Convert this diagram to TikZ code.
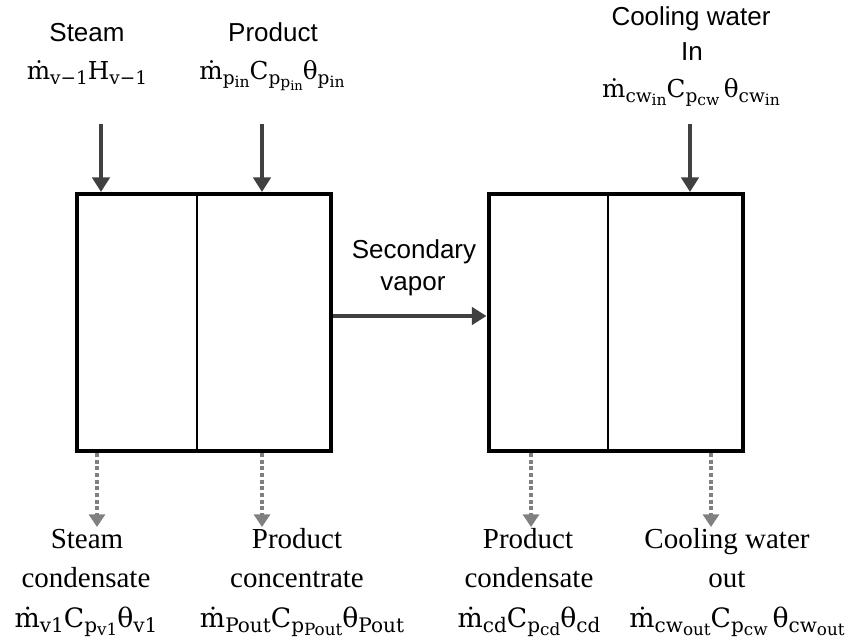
\documentclass[tikz,border=0pt]{standalone}
\usepackage{fontspec}
\usepackage{graphicx}
\setmainfont{Liberation Serif}
\newfontfamily\arialf{Liberation Sans}
\newfontfamily\frmf{DejaVu Serif}
\usetikzlibrary{arrows.meta}
\newcommand\sbs[1]{\raisebox{-0.2em}{\scalebox{0.75}{#1}}}
\newcommand\sbss[1]{\raisebox{-0.16em}{\scalebox{0.84}{#1}}}
\newcommand\md{\.{m}}
\newcommand\gp{\hspace{0.18em}}
\tikzset{
  boxst/.style={draw=black, line width=3pt, minimum width=190.5pt, minimum height=192.75pt, inner sep=0pt, outer sep=1.5pt},
  divst/.style={draw=black, line width=1.5pt},
  inarrow/.style={draw=black!75, line width=3.6pt, -{Triangle[width=13pt,length=11pt]}},
  outarrow/.style={draw=black!50, line width=3pt, dash pattern=on 3pt off 2pt, -{Triangle[width=12pt,length=9.5pt]}},
  sanslbl/.style={anchor=base, inner sep=0pt, font=\arialf\fontsize{19.5pt}{22pt}\selectfont},
  seriflbl/.style={anchor=base, inner sep=0pt, font=\fontsize{21.75pt}{24pt}\selectfont},
  topfrm/.style={anchor=base, inner sep=0pt, font=\frmf\fontsize{18.5pt}{22pt}\selectfont},
  botfrm/.style={anchor=base, inner sep=0pt, font=\frmf\fontsize{20pt}{24pt}\selectfont}
}
\begin{document}
\begin{tikzpicture}[x=0.75pt, y=-0.75pt]
\useasboundingbox (0,0) rectangle (854,642);
% boxes
\node[boxst] (L) at (204,322.5) {};
\node[boxst] (R) at (615.5,322.5) {};
\draw[divst] (197,194) -- (197,451);
\draw[divst] (608,194) -- (608,451);
% top labels
\node[sanslbl] (tSteam) at (87,42) {Steam};
\node[topfrm] (tF1) at (87,80) {\md\sbs{v−1}H\sbs{v−1}};
\node[sanslbl] (tProd) at (273,42) {Product};
\node[topfrm] (tF2) at (272,80) {\md\sbs{p\sbss{in}}C\sbs{p\sbss{p\sbss{in}}}θ\sbs{p\sbss{in}}};
\node[sanslbl] (tCw) at (691,26) {Cooling water};
\node[sanslbl] (tIn) at (692,61) {In};
\node[topfrm] (tF3) at (691,98) {\md\sbs{cw\sbss{in}}C\sbs{p\sbss{cw}}\gp θ\sbs{cw\sbss{in}}};
% secondary vapor
\node[sanslbl] (sv1) at (414,258) {Secondary};
\node[sanslbl] (sv2) at (413,290) {vapor};
% input arrows
\coordinate (a1) at (101,124);
\coordinate (a2) at (262,124);
\coordinate (a3) at (690,124);
\draw[inarrow] (a1) -- (a1 |- L.north);
\draw[inarrow] (a2) -- (a2 |- L.north);
\draw[inarrow] (a3) -- (a3 |- R.north);
\coordinate (sv) at (0,316);
\draw[inarrow] (sv -| L.east) -- (sv -| R.west);
% output arrows
\coordinate (o1) at (97,527);
\coordinate (o2) at (262,527);
\coordinate (o3) at (531,527);
\coordinate (o4) at (711,527);
\draw[outarrow] (o1 |- L.south) -- (o1);
\draw[outarrow] (o2 |- L.south) -- (o2);
\draw[outarrow] (o3 |- R.south) -- (o3);
\draw[outarrow] (o4 |- R.south) -- (o4);
% bottom labels
\node[seriflbl] (b1a) at (87,548) {Steam};
\node[seriflbl] (b1b) at (86,587) {condensate};
\node[botfrm] (b1c) at (86,627) {\md\sbs{v1}C\sbs{p\sbss{v1}}θ\sbs{v1}};
\node[seriflbl] (b2a) at (297,548) {Product};
\node[seriflbl] (b2b) at (297,587) {concentrate};
\node[botfrm] (b2c) at (302,627) {\md\sbs{Pout}C\sbs{p\sbss{Pout}}θ\sbs{Pout}};
\node[seriflbl] (b3a) at (528,548) {Product};
\node[seriflbl] (b3b) at (529,587) {condensate};
\node[botfrm] (b3c) at (529,627) {\md\sbs{cd}C\sbs{p\sbss{cd}}θ\sbs{cd}};
\node[seriflbl] (b4a) at (727,548) {Cooling water};
\node[seriflbl] (b4b) at (727,587) {out};
\node[botfrm] (b4c) at (737,627) {\md\sbs{cw\sbss{out}}C\sbs{p\sbss{cw}}\gp θ\sbs{cw\sbss{out}}};
\end{tikzpicture}
\end{document}
